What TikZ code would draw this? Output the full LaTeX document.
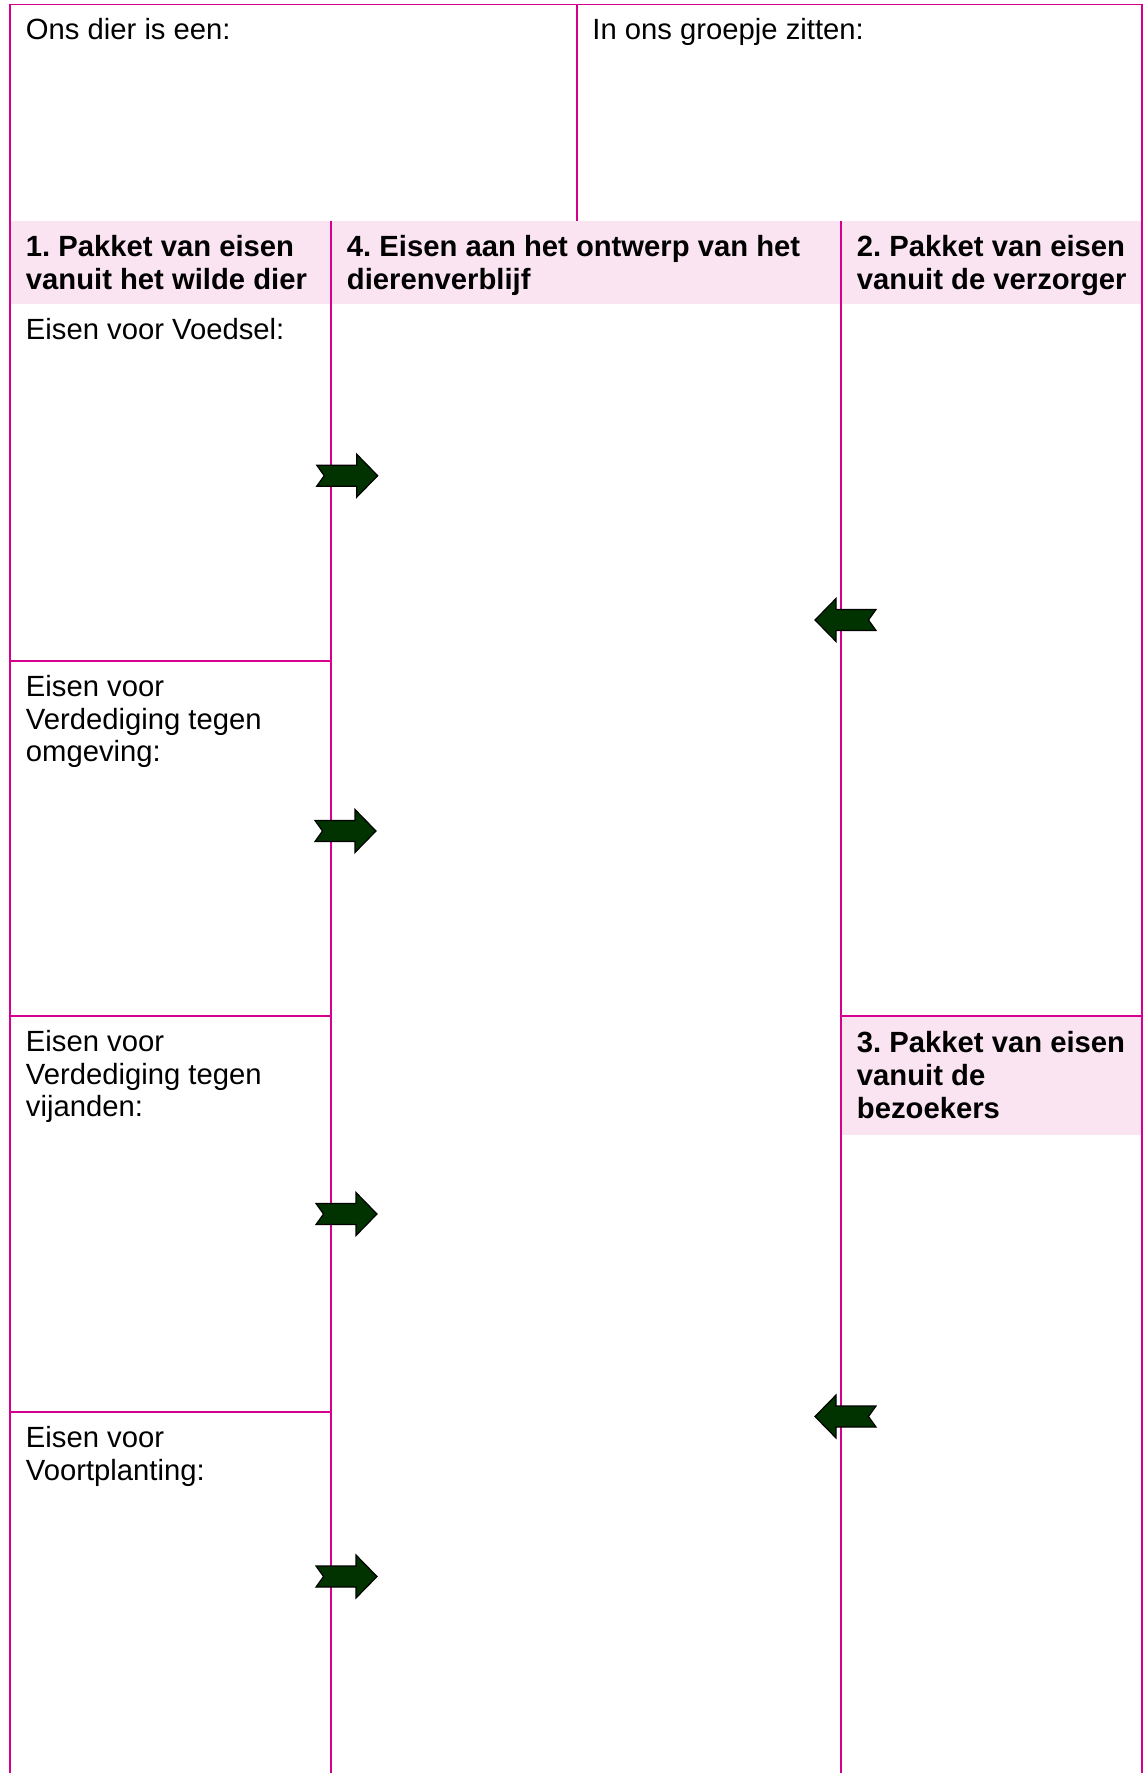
\documentclass[tikz,border=0pt]{standalone}
\usepackage{fontspec}
\setmainfont{Liberation Sans}

\definecolor{lijnroze}{RGB}{214,0,143}
\definecolor{bandroze}{RGB}{250,228,241}
\definecolor{pijlgroen}{RGB}{0,51,0}

\tikzset{every picture/.style={line width=0.8pt},
	rand/.style={draw=lijnroze, line width=0.8pt},
	band/.style={fill=bandroze, draw=none},
	tekst/.style={anchor=base west, inner sep=0pt, align=left, font=\fontsize{12.35}{13.8}\selectfont\frenchspacing},
	kop/.style={tekst, font=\fontsize{12.35}{13.8}\selectfont\frenchspacing\bfseries},
	notchpijl/.pic={
		\draw [fill=pijlgroen, draw=black, line width=0.5pt] (0,-10.5) -- (40,-10.5) -- (40,-21.5) -- (61,0) -- (40,21.5) -- (40,10.5) -- (0,10.5) -- (7.5,0) -- cycle ;
	}
}

\begin{document}
\begin{tikzpicture}[x=0.4225pt,y=0.4225pt,yscale=-1,xscale=1]
	\useasboundingbox (0,0) rectangle (1143,1773);
	
	%Shape: Rectangle [id:kopband] 
	\fill [band] (11,221) rectangle (1141,304) ;
	%Shape: Rectangle [id:bezoekerband] 
	\fill [band] (841,1016) rectangle (1141,1135) ;
	
	%Straight Lines [id:rand] 
	\draw [rand] (10,1773) -- (10,4.5) -- (1142,4.5) -- (1142,1773) ;
	%Straight Lines [id:bovendeler] 
	\draw [rand] (576.6,4.5) -- (576.6,221) ;
	%Straight Lines [id:kolom1] 
	\draw [rand] (331,221) -- (331,1773) ;
	%Straight Lines [id:kolom2] 
	\draw [rand] (841,221) -- (841,1773) ;
	%Straight Lines [id:vakken links] 
	\draw [rand] (10,661) -- (331,661) ;
	\draw [rand] (10,1016) -- (331,1016) ;
	\draw [rand] (10,1412) -- (331,1412) ;
	%Straight Lines [id:vak rechts] 
	\draw [rand] (841,1016) -- (1142,1016) ;
	
	%Shape: Notched Right Arrow 
	\pic at (316.7,475.7) {notchpijl};
	\pic at (315,831) {notchpijl};
	\pic at (316,1214) {notchpijl};
	\pic at (316,1576.5) {notchpijl};
	%Shape: Notched Left Arrow 
	\pic [rotate=180] at (876,620) {notchpijl};
	\pic [rotate=180] at (876,1416.5) {notchpijl};
	
	% Text Node (base = baseline of the last line)
	\draw (25,40) node [tekst] (dier) {Ons dier is een:};
	% Text Node
	\draw (591.5,40) node [tekst] (groepje) {In ons groepje zitten:};
	% Text Node
	\draw (25,289.2) node [kop] (pakket1) {1. Pakket van eisen\\vanuit het wilde dier};
	% Text Node
	\draw (346,289.2) node [kop] (ontwerp) {4. Eisen aan het ontwerp van het\\dierenverblijf};
	% Text Node
	\draw (856,289.2) node [kop] (pakket2) {2. Pakket van eisen\\vanuit de verzorger};
	% Text Node
	\draw (856,1118) node [kop] (pakket3) {3. Pakket van eisen\\vanuit de\\bezoekers};
	% Text Node
	\draw (25,339.5) node [tekst] (voedsel) {Eisen voor Voedsel:};
	% Text Node
	\draw (25,761.8) node [tekst] (omgeving) {Eisen voor\\Verdediging tegen\\omgeving:};
	% Text Node
	\draw (25,1116.8) node [tekst] (vijanden) {Eisen voor\\Verdediging tegen\\vijanden:};
	% Text Node
	\draw (25,1480.2) node [tekst] (voortplanting) {Eisen voor\\Voortplanting:};
	
\end{tikzpicture}
\end{document}
